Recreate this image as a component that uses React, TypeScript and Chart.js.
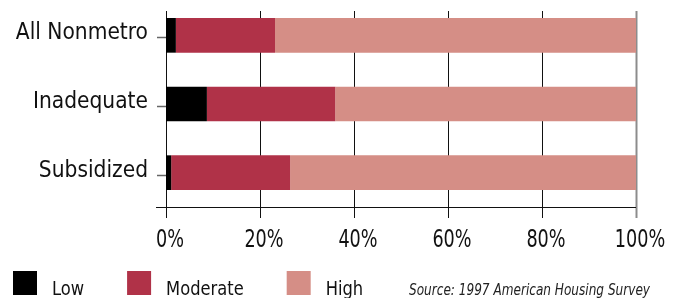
import { useEffect, useRef } from 'react';
import { Chart, registerables } from 'chart.js';

Chart.register(...registerables);

const categories = ['All Nonmetro', 'Inadequate', 'Subsidized'];
const seriesNames = ['Low', 'Moderate', 'High'];
const lowValues = [2.1, 8.7, 1.1];
const moderateValues = [21.1, 27.3, 25.3];
const highValues = [76.8, 64.0, 73.6];
const xTickValues = [0, 20, 40, 60, 80, 100];
const sourceNote = 'Source: 1997 American Housing Survey';
const seriesColors = ['#000000', '#b03248', '#d58e86'];

const COND = "'DejaVu Sans Condensed', 'DejaVu Sans', sans-serif";

function drawNarrowText(ctx: any, text: string, x: number, y: number, font: string, sx: number, align: 'left' | 'center' = 'left') {
  ctx.save();
  ctx.font = font;
  ctx.textBaseline = 'alphabetic';
  ctx.textAlign = align;
  ctx.translate(x, y);
  ctx.scale(sx, 1);
  ctx.fillText(text, 0, 0);
  const w = ctx.measureText(text).width * sx;
  ctx.restore();
  return w;
}

const framePlugin = {
  id: 'frame',
  beforeDatasetsDraw(chart: any) {
    const { ctx, chartArea, scales } = chart;
    const xs = scales.x;
    const ys = scales.y;
    ctx.save();
    xTickValues.forEach((v) => {
      const px = Math.round(xs.getPixelForValue(v)) + 0.5;
      const last = v === xTickValues[xTickValues.length - 1];
      ctx.strokeStyle = last ? '#8c8c8c' : '#111';
      ctx.lineWidth = last ? 2 : 1;
      ctx.beginPath();
      ctx.moveTo(px, chartArea.top + 10);
      ctx.lineTo(px, chartArea.bottom + 11);
      ctx.stroke();
    });
    const by = Math.round(chartArea.bottom) + 0.5;
    ctx.strokeStyle = '#111';
    ctx.lineWidth = 1;
    ctx.beginPath();
    ctx.moveTo(chartArea.left - 10, by);
    ctx.lineTo(chartArea.right, by);
    ctx.stroke();
    categories.forEach((_, i) => {
      const py = Math.round(ys.getPixelForValue(i) + 2) + 0.5;
      ctx.strokeStyle = '#666';
      ctx.lineWidth = 1.5;
      ctx.beginPath();
      ctx.moveTo(chartArea.left - 9, py);
      ctx.lineTo(chartArea.left, py);
      ctx.stroke();
    });
    ctx.restore();
  },
  afterDraw(chart: any) {
    const { ctx, chartArea, scales } = chart;
    const xs = scales.x;
    const h = chart.height;
    ctx.save();
    ctx.fillStyle = '#111';
    // x tick labels
    xTickValues.forEach((v) => {
      const px = xs.getPixelForValue(v) + 4;
      drawNarrowText(ctx, `${v}%`, px, chartArea.bottom + 40, `24.5px ${COND}`, 0.8, 'center');
    });
    // legend
    let lx = 13;
    const boxTop = h - 27;
    const base = h - 3;
    chart.data.datasets.forEach((ds: any) => {
      ctx.fillStyle = ds.backgroundColor;
      ctx.fillRect(lx, boxTop, 24, 24);
      ctx.fillStyle = '#111';
      const w = drawNarrowText(ctx, ds.label, lx + 24 + 15, base, `19.5px ${COND}`, 0.93);
      lx += 24 + 15 + w + 43;
    });
    // source note
    ctx.fillStyle = '#222';
    ctx.font = `italic 16.5px ${COND}`;
    const natural = ctx.measureText(sourceNote).width;
    drawNarrowText(ctx, sourceNote, 409, base, `italic 16.5px ${COND}`, 241 / natural);
    ctx.restore();
  },
};

function zeroPadding(s: any) {
  s.paddingTop = 0;
  s.paddingBottom = 0;
  s.paddingLeft = 0;
  s.paddingRight = 0;
}

export default function App() {
  const ref = useRef<HTMLCanvasElement>(null);
  useEffect(() => {
    if (!ref.current) return;
    const seriesValues = [lowValues, moderateValues, highValues];
    const chart = new Chart(ref.current, {
      type: 'bar',
      data: {
        labels: categories,
        datasets: seriesNames.map((name, i) => ({
          label: name,
          data: seriesValues[i],
          backgroundColor: seriesColors[i],
          borderWidth: 0,
          categoryPercentage: 1,
          barPercentage: 0.505,
        })),
      },
      options: {
        indexAxis: 'y',
        animation: false,
        responsive: false,
        devicePixelRatio: 1,
        layout: { padding: { top: 1, right: 41, left: 0, bottom: 0 } },
        plugins: { legend: { display: false }, tooltip: { enabled: false } },
        scales: {
          x: {
            type: 'linear',
            stacked: true,
            min: 0,
            max: 100,
            position: 'bottom',
            afterBuildTicks: (s: any) => {
              s.ticks = xTickValues.map((v) => ({ value: v }));
            },
            ticks: { display: false },
            grid: { display: false, drawTicks: false },
            border: { display: false },
            afterFit: (s: any) => {
              s.height = 91;
              zeroPadding(s);
            },
          },
          y: {
            type: 'category',
            stacked: true,
            ticks: {
              font: { family: COND, size: 22.5 },
              color: '#111',
              padding: 18,
              labelOffset: -2,
            },
            grid: { display: false, drawTicks: false },
            border: { display: false },
            afterFit: (s: any) => {
              s.width = 166;
              zeroPadding(s);
            },
          },
        },
      },
      plugins: [framePlugin],
    });
    return () => chart.destroy();
  }, []);
  return (
    <div style={{ position: 'absolute', left: 0, top: 0, width: 677, height: 298, background: '#fff' }}>
      <canvas ref={ref} width={677} height={298} />
    </div>
  );
}
